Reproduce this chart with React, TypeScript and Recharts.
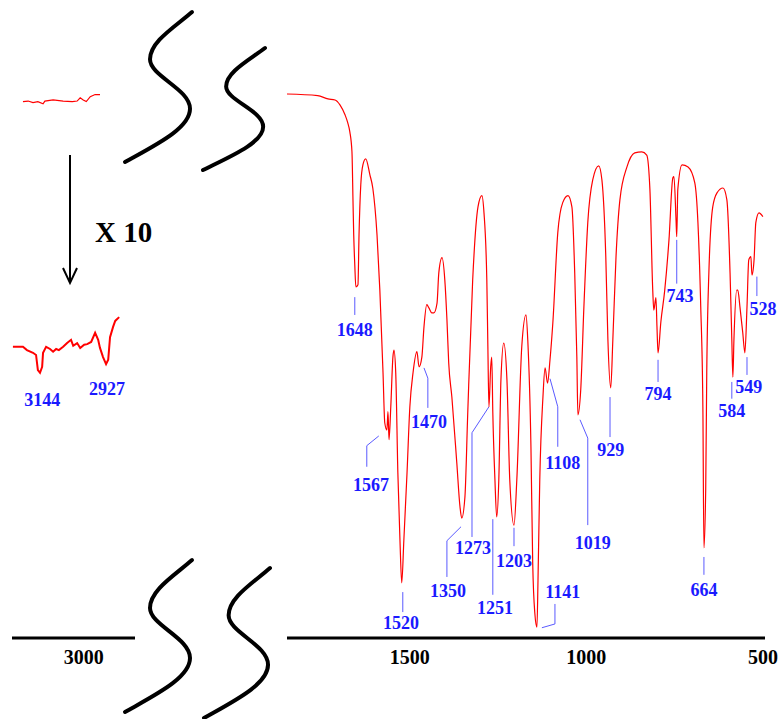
import React from "react";
import { ComposedChart, Line, XAxis, YAxis, ReferenceLine, Scatter } from "recharts";

const serif = "'Liberation Serif', 'Times New Roman', serif";
const RED = "#ff0000";
const BLUE = "#1a1aff";
const LEADER = "#5a5aff";

// main fingerprint region, cm-1 vs %T
const wavenumbers = [
  1848, 1761, 1732, 1712, 1698, 1684, 1676, 1670, 1664, 1661, 1659, 1656, 1653, 1647, 1644, 1639,
  1633, 1625, 1613, 1605, 1593, 1585, 1576, 1571, 1565, 1562, 1559, 1554, 1548, 1545, 1540, 1534,
  1528, 1523, 1517, 1508, 1500, 1491, 1480, 1474, 1466, 1460, 1452, 1446, 1438, 1432, 1423, 1418,
  1409, 1401, 1395, 1390, 1381, 1367, 1358, 1353, 1344, 1336, 1322, 1307, 1296, 1290, 1282, 1279,
  1276, 1271, 1268, 1265, 1259, 1254, 1248, 1242, 1234, 1225, 1217, 1205, 1197, 1183, 1171, 1166,
  1157, 1152, 1146, 1140, 1137, 1132, 1123, 1117, 1110, 1103, 1095, 1081, 1067, 1052, 1041, 1033,
  1027, 1024, 1016, 1007, 996, 982, 965, 956, 945, 939, 931, 925, 916, 905, 885, 863,
  843, 829, 820, 812, 809, 803, 800, 797, 789, 778, 766, 755, 752, 746, 744, 741,
  729, 712, 693, 684, 676, 670, 667, 662, 659, 653, 642, 630, 613, 602, 593, 588,
  585, 582, 574, 571, 565, 557, 551, 545, 540, 534, 531, 525, 520, 511, 500,
];
const transmittance = [
  100.7, 100.4, 99.8, 99.6, 98.7, 96.9, 95.4, 93.7, 90.0, 80.7, 74.6, 69.1, 65.0, 65.4, 74.6, 83.9,
  87.6, 88.7, 85.7, 83.3, 74.6, 64.4, 49.1, 39.8, 38.5, 41.9, 36.7, 42.8, 52.0, 53.3, 49.1, 30.6,
  18.1, 10.2, 18.1, 30.6, 42.8, 49.1, 53.0, 50.2, 52.0, 57.6, 61.7, 61.1, 60.2, 60.2, 62.0, 67.6,
  70.4, 66.3, 59.0, 51.0, 44.6, 32.4, 24.3, 22.2, 26.1, 41.7, 66.3, 79.8, 81.9, 78.7, 66.3, 53.9,
  42.8, 50.2, 52.0, 41.7, 29.3, 22.4, 29.3, 47.8, 54.6, 47.8, 29.3, 20.9, 29.3, 53.9, 59.8, 55.2,
  35.4, 13.9, 4.6, 2.0, 10.7, 29.3, 44.6, 50.0, 47.2, 51.5, 58.3, 75.0, 80.6, 81.9, 79.8, 67.6,
  52.0, 41.3, 45.9, 61.3, 76.9, 84.8, 87.4, 84.8, 70.6, 55.2, 46.3, 55.2, 70.6, 81.1, 87.2, 89.8,
  90.0, 89.4, 83.0, 64.4, 60.7, 63.0, 57.6, 52.8, 58.5, 64.4, 73.7, 85.2, 85.4, 77.4, 74.3, 83.0,
  87.6, 87.2, 84.3, 76.9, 61.3, 42.8, 16.7, 27.4, 49.1, 67.6, 79.8, 82.4, 83.3, 81.1, 67.6, 55.2,
  48.3, 55.2, 64.4, 64.4, 61.3, 56.5, 52.8, 61.3, 70.0, 70.6, 67.2, 70.0, 76.9, 78.7, 78.0,
];

// C-H stretch region: raw trace and the same trace expanded x10
const chWavenumbersRaw = [3200, 3183, 3167, 3151, 3134, 3128, 3101, 3068, 3038, 3022, 3012, 3002, 2992, 2979, 2963, 2947];
const chRaw = [99.3, 99.4, 99.1, 99.3, 98.9, 99.4, 99.6, 99.4, 99.3, 99.4, 100.0, 99.6, 99.3, 100.2, 100.6, 100.6];
const chWavenumbersX10 = [
  3233, 3200, 3187, 3167, 3157, 3151, 3144, 3137, 3134, 3124, 3111, 3101, 3091, 3082, 3068, 3055, 3042,
  3035, 3022, 3012, 2999, 2989, 2976, 2963, 2953, 2947, 2937, 2927, 2920, 2914, 2904, 2897, 2884,
];
const chX10 = [
  53.9, 53.9, 53.3, 52.8, 52.4, 49.6, 49.1, 50.2, 52.8, 53.9, 53.5, 53.0, 53.5, 53.3, 53.9, 54.6, 55.2,
  54.1, 54.6, 53.7, 54.3, 54.4, 54.8, 56.5, 55.2, 53.7, 52.0, 50.7, 51.5, 55.7, 57.6, 58.7, 59.4,
];

const mainTicks = [1500, 1000, 500];
const chTicks = [3000];

// peak labels, leader polylines and text anchors (data coordinates)
const peakLabels = ["1648", "1567", "1520", "1470", "1350", "1273", "1251", "1203", "1141", "1108", "1019", "929", "794", "743", "664", "584", "549", "528"];
const leaderPaths: number[][][] = [
  [[1656, 63.1], [1656, 59.8]],
  [[1588, 37.4], [1622, 35.6], [1622, 31.7]],
  [[1520, 8.5], [1520, 4.8]],
  [[1460, 50.0], [1449, 48.1], [1449, 42.6]],
  [[1355, 20.6], [1395, 18.0], [1395, 11.3]],
  [[1276, 42.8], [1324, 38.0], [1324, 18.7]],
  [[1265, 22.0], [1265, 8.0]],
  [[1205, 20.4], [1205, 17.0]],
  [[1126, 1.9], [1089, 2.6], [1089, 6.3]],
  [[1103, 48.0], [1081, 42.8], [1081, 35.4]],
  [[1018, 40.4], [996, 37.0], [996, 20.9]],
  [[933, 44.6], [933, 37.2]],
  [[797, 51.5], [797, 47.4]],
  [[744, 73.7], [744, 65.6]],
  [[667, 15.0], [667, 11.7]],
  [[588, 47.4], [588, 44.3]],
  [[545, 52.0], [545, 48.7]],
  [[517, 66.9], [517, 63.3]],
];
const labelAnchors = [
  [1656, 57.0], [1610, 28.3], [1525, 2.8], [1446, 40.0], [1392, 8.7], [1321, 16.7], [1259, 5.6], [1205, 14.4],
  [1067, 8.5], [1067, 32.5], [982, 17.6], [931, 34.8], [797, 45.2], [735, 63.3], [667, 8.9], [588, 42.0],
  [540, 46.5], [500, 60.9],
];
const chLabels = ["3144", "2927"];
const chLabelAnchors = [[3137, 44.1], [2924, 46.1]];

const spectrum = wavenumbers.map((w, i) => ({ w, t: transmittance[i] }));
const rawData = chWavenumbersRaw.map((w, i) => ({ w, t: chRaw[i] }));
const x10Data = chWavenumbersX10.map((w, i) => ({ w, t: chX10[i] }));
const peakTextData = labelAnchors.map((p, i) => ({ w: p[0], t: p[1], label: peakLabels[i] }));
const chTextData = chLabelAnchors.map((p, i) => ({ w: p[0], t: p[1], label: chLabels[i] }));

const tickStyle = { fill: "#000", fontSize: 20, fontWeight: "bold", fontFamily: serif };

function PeakText(props: any) {
  const { cx, cy, payload } = props;
  return (
    <text x={cx} y={cy} dy="0.35em" textAnchor="middle" fill={BLUE} fontSize={18} fontWeight="bold" fontFamily={serif}>
      {payload.label}
    </text>
  );
}

// axis break "S" drawn in a 67x152 box
function BreakMark({ x, y, w, h }: { x: number; y: number; w: number; h: number }) {
  const sx = w / 67;
  const sy = h / 152;
  return (
    <path
      transform={`translate(${x},${y}) scale(${sx},${sy})`}
      d="M67 0 C50 15 25 30 25 48 C25 65 65 78 65 98 C65 118 30 135 0 152"
      fill="none"
      stroke="#000"
      strokeWidth={4}
      vectorEffect="non-scaling-stroke"
      strokeLinecap="round"
    />
  );
}

export default function App() {
  return (
    <div style={{ position: "absolute", left: 0, top: 0, width: 784, height: 719, background: "#fff" }}>
      <div style={{ position: "absolute", left: 0, top: 0 }}>
        <ComposedChart width={784} height={719} data={spectrum} margin={{ top: 87, right: 19, left: 287, bottom: 51 }}>
          <XAxis
            type="number"
            dataKey="w"
            domain={[494, 1848]}
            reversed
            height={30}
            ticks={mainTicks}
            tickLine={false}
            tickMargin={6}
            axisLine={{ stroke: "#000", strokeWidth: 3 }}
            tick={tickStyle}
          />
          <YAxis type="number" hide domain={[0, 102]} />
          {leaderPaths.flatMap((path, i) =>
            path.slice(1).map((pt, j) => (
              <ReferenceLine
                key={`l${i}-${j}`}
                segment={[{ x: path[j][0], y: path[j][1] }, { x: pt[0], y: pt[1] }]}
                stroke={LEADER}
                strokeWidth={1}
                ifOverflow="visible"
              />
            ))
          )}
          <Line type="monotone" dataKey="t" stroke={RED} strokeWidth={1.2} dot={false} isAnimationActive={false} />
          <Scatter data={peakTextData} dataKey="t" shape={PeakText} isAnimationActive={false} />
        </ComposedChart>
      </div>
      <div style={{ position: "absolute", left: 0, top: 0 }}>
        <ComposedChart width={150} height={719} margin={{ top: 87, right: 15, left: 12, bottom: 51 }}>
          <XAxis
            type="number"
            dataKey="w"
            domain={[2832, 3236]}
            reversed
            height={30}
            ticks={chTicks}
            tickLine={false}
            tickMargin={6}
            axisLine={{ stroke: "#000", strokeWidth: 3 }}
            tick={tickStyle}
          />
          <YAxis type="number" hide domain={[0, 102]} />
          <Line data={rawData} type="linear" dataKey="t" stroke={RED} strokeWidth={1.2} dot={false} isAnimationActive={false} />
          <Line data={x10Data} type="linear" dataKey="t" stroke={RED} strokeWidth={2} dot={false} isAnimationActive={false} />
          <Scatter data={chTextData} dataKey="t" shape={PeakText} isAnimationActive={false} />
        </ComposedChart>
      </div>
      <svg width={784} height={719} style={{ position: "absolute", left: 0, top: 0, pointerEvents: "none" }}>
        <BreakMark x={125} y={12} w={67} h={150} />
        <BreakMark x={203} y={48} w={62} h={122} />
        <BreakMark x={125} y={560} w={67} h={152} />
        <BreakMark x={204} y={568} w={66} h={150} />
        <line x1={70} y1={155} x2={70} y2={281} stroke="#000" strokeWidth={2} />
        <polyline points="63,268 70,283 77,268" fill="none" stroke="#000" strokeWidth={2} />
        <text x={95} y={232} dy="0.35em" fontSize={29} fontWeight="bold" fontFamily={serif} fill="#000">
          X 10
        </text>
      </svg>
    </div>
  );
}
